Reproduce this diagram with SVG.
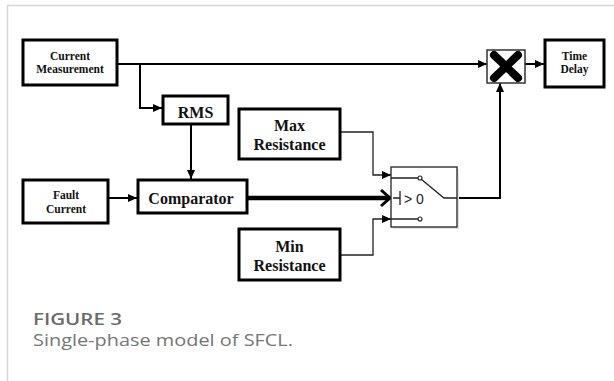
<svg xmlns="http://www.w3.org/2000/svg" width="614" height="381" viewBox="0 0 614 381">
<style>
.blk{fill:#fff;stroke:#000;stroke-width:3}
.t{font-family:"Liberation Serif","Times New Roman",serif;font-weight:bold;fill:#111;text-anchor:middle}
.s{font-size:11.5px}
.b{font-size:16px}
.c{fill:none;stroke:#000;stroke-width:2}
.thin{fill:none;stroke:#222;stroke-width:1.3}
.cap{font-family:"Open Sans",Lato,sans-serif}
</style>
<defs>
<marker id="ar" markerUnits="userSpaceOnUse" markerWidth="9" markerHeight="8" refX="9" refY="4" orient="auto"><path d="M0,0 L9,4 L0,8 z" fill="#000"/></marker>
</defs>
<rect x="0" y="0" width="614" height="381" fill="#fff"/>
<path d="M7.5,381 V5.5 H614" fill="none" stroke="#d6d6d6" stroke-width="1.5"/>

<g id="connectors">
<path class="c" d="M117,64 H487" marker-end="url(#ar)"/>
<path class="c" d="M140,64 V108 H162" marker-end="url(#ar)"/>
<path class="c" d="M191,124 V179" marker-end="url(#ar)"/>
<path class="c" d="M108,198 H137" marker-end="url(#ar)"/>
<path d="M247,198 H388" fill="none" stroke="#000" stroke-width="4.5"/>
<path d="M381,190 L390,198 L381,206" fill="none" stroke="#000" stroke-width="3"/>
<path class="thin" d="M340,132 H373 V175 H391" marker-end="url(#ar)"/>
<path class="thin" d="M340,255 H373 V219 H391" marker-end="url(#ar)"/>
<path class="c" d="M457,198 H500 V83" marker-end="url(#ar)"/>
<path class="c" d="M525,64 H544" marker-end="url(#ar)"/>
</g>

<g id="current-measurement">
<rect class="blk" x="23" y="40" width="94" height="45"/>
<text class="t s" x="70" y="60">Current</text>
<text class="t s" x="70" y="73">Measurement</text>
</g>
<g id="rms">
<rect class="blk" x="163" y="96" width="65" height="28"/>
<text class="t b" x="195.5" y="118">RMS</text>
</g>
<g id="max-resistance">
<rect class="blk" x="239" y="109" width="101" height="50"/>
<text class="t b" x="289.5" y="131">Max</text>
<text class="t b" x="289.5" y="150">Resistance</text>
</g>
<g id="fault-current">
<rect class="blk" x="23" y="180" width="85" height="43"/>
<text class="t s" x="66" y="199">Fault</text>
<text class="t s" x="66" y="213">Current</text>
</g>
<g id="comparator">
<rect class="blk" x="138" y="180" width="109" height="33"/>
<text class="t b" x="191" y="204">Comparator</text>
</g>
<g id="min-resistance">
<rect class="blk" x="239" y="229" width="101" height="51"/>
<text class="t b" x="289.5" y="252">Min</text>
<text class="t b" x="289.5" y="271">Resistance</text>
</g>
<g id="switch">
<rect x="393" y="169" width="66" height="60" fill="#e4e4e4"/>
<rect x="391" y="167" width="66" height="60" fill="#fff" stroke="#222" stroke-width="1.3"/>
<path d="M391,178 H418 M391,219 H418 M421.5,179.5 L444,198 H457 M393,198 H400 M400,191 V205" fill="none" stroke="#222" stroke-width="1.3"/>
<circle cx="420" cy="178" r="2" fill="#fff" stroke="#222" stroke-width="1.1"/>
<circle cx="420" cy="219" r="2" fill="#fff" stroke="#222" stroke-width="1.1"/>
<text x="404" y="204" font-family="'Liberation Sans',Arial,sans-serif" font-size="14" fill="#222">&gt; 0</text>
</g>
<g id="product">
<rect x="487" y="50" width="38" height="33" fill="#fff" stroke="#333" stroke-width="1.5"/>
<path d="M494,55 L518,78 M518,55 L494,78" stroke="#000" stroke-width="8" stroke-linecap="round"/>
</g>
<g id="time-delay">
<rect class="blk" x="545" y="40" width="59" height="47"/>
<text class="t s" x="574.5" y="60">Time</text>
<text class="t s" x="574.5" y="73">Delay</text>
</g>

<g id="caption">
<text class="cap" x="33" y="325" font-size="17" font-weight="600" fill="#6b6b6b" textLength="89" lengthAdjust="spacingAndGlyphs">FIGURE 3</text>
<text class="cap" x="33" y="346" font-size="17" fill="#757575" textLength="260" lengthAdjust="spacingAndGlyphs">Single-phase model of SFCL.</text>
</g>
</svg>
